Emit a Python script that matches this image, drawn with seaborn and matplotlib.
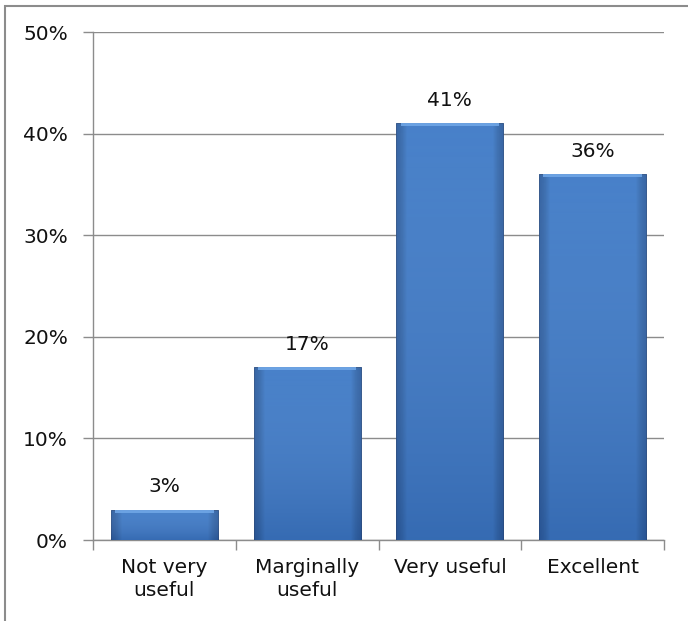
import numpy as np
import pandas as pd
import matplotlib
matplotlib.use("Agg")
import matplotlib.pyplot as plt
from matplotlib.patches import Rectangle
from matplotlib.ticker import FixedLocator, PercentFormatter
import seaborn as sns

categories = ["Not very\nuseful", "Marginally\nuseful", "Very useful", "Excellent"]
values = [3, 17, 41, 36]
yticks = [0, 10, 20, 30, 40, 50]

sns.set_theme(style="white")
plt.rcParams["font.family"] = ["DejaVu Sans"]
FS = 14.5

W, H = 688, 621
fig = plt.figure(figsize=(W / 100, H / 100), dpi=100)
fig.patch.set_facecolor("white")
ax = fig.add_axes([93 / W, 1 - 540 / H, (664 - 93) / W, (540 - 32) / H])

df = pd.DataFrame({"cat": categories, "val": values})
sns.barplot(data=df, x="cat", y="val", color="#3d79c6", width=0.75,
            saturation=1, ax=ax, zorder=3, edgecolor="#2c5a96", linewidth=0.6)

ax.set_ylim(0, 50)
ax.set_xlim(-0.5, 3.5)
ax.yaxis.set_major_locator(FixedLocator(yticks))
ax.yaxis.set_major_formatter(PercentFormatter(decimals=0))
ax.grid(axis="y", color="#8c8c8c", linewidth=1.0, zorder=0)
ax.set_axisbelow(True)
for s in ["top", "right"]:
    ax.spines[s].set_visible(False)
for s in ["left", "bottom"]:
    ax.spines[s].set_color("#8c8c8c")
    ax.spines[s].set_linewidth(1.0)
ax.set_xlabel("")
ax.set_ylabel("")
ax.tick_params(axis="y", length=7, width=1, color="#8c8c8c", labelsize=FS,
               labelcolor="#111111", pad=11, left=True)
ax.tick_params(axis="x", length=0, labelsize=FS, labelcolor="#111111", pad=13)
ax.xaxis.set_minor_locator(FixedLocator([-0.5, 0.5, 1.5, 2.5, 3.5]))
ax.tick_params(axis="x", which="minor", length=7, width=1, color="#8c8c8c", bottom=True)
for lbl in ax.get_xticklabels():
    lbl.set_linespacing(1.25)

# gradient shading on each bar
grad = np.linspace(0, 1, 256).reshape(1, -1)
grad = np.abs(grad - 0.5) * 2
cmap = matplotlib.colors.LinearSegmentedColormap.from_list(
    "g", [(0.0, (1, 1, 1, 0.0)), (0.8, (0, 0, 0, 0.0)), (1.0, (0.05, 0.15, 0.35, 0.35))])
cmap2 = matplotlib.colors.LinearSegmentedColormap.from_list(
    "v", [(0.0, (0.1, 0.2, 0.4, 0.20)), (1.0, (1, 1, 1, 0.06))])
for p in list(ax.patches):
    x0, y0 = p.get_x(), p.get_y()
    w, h = p.get_width(), p.get_height()
    im = ax.imshow(grad, extent=[x0, x0 + w, y0, y0 + h], aspect="auto",
                   cmap=cmap, zorder=4, interpolation="bicubic")
    im.set_clip_path(p)
    vg = np.linspace(0, 1, 128).reshape(-1, 1)
    im2 = ax.imshow(vg, extent=[x0, x0 + w, y0, y0 + h], aspect="auto",
                    cmap=cmap2, origin="lower", zorder=4, interpolation="bicubic")
    im2.set_clip_path(p)
    # top bevel highlight
    bh = min(0.3, h * 0.3)
    ax.add_patch(Rectangle((x0 + w * 0.04, y0 + h - bh), w * 0.92, bh,
                           facecolor="#6fa6e6", edgecolor="none", alpha=0.9, zorder=5))
ax.set_xlim(-0.5, 3.5)
ax.set_ylim(0, 50)

for i, v in enumerate(values):
    ax.text(i, v + 1.3, f"{v}%", ha="center", va="bottom", fontsize=FS, color="#111111", zorder=6)

# outer chart border (only top and left edges are visible)
fig.add_artist(Rectangle((4.5 / W, -0.05), 1.2, 1 - 6 / H + 0.05, transform=fig.transFigure,
                         fill=False, edgecolor="#8c8c8c", linewidth=1.5))

fig.savefig("out.png", dpi=100, facecolor="white")
